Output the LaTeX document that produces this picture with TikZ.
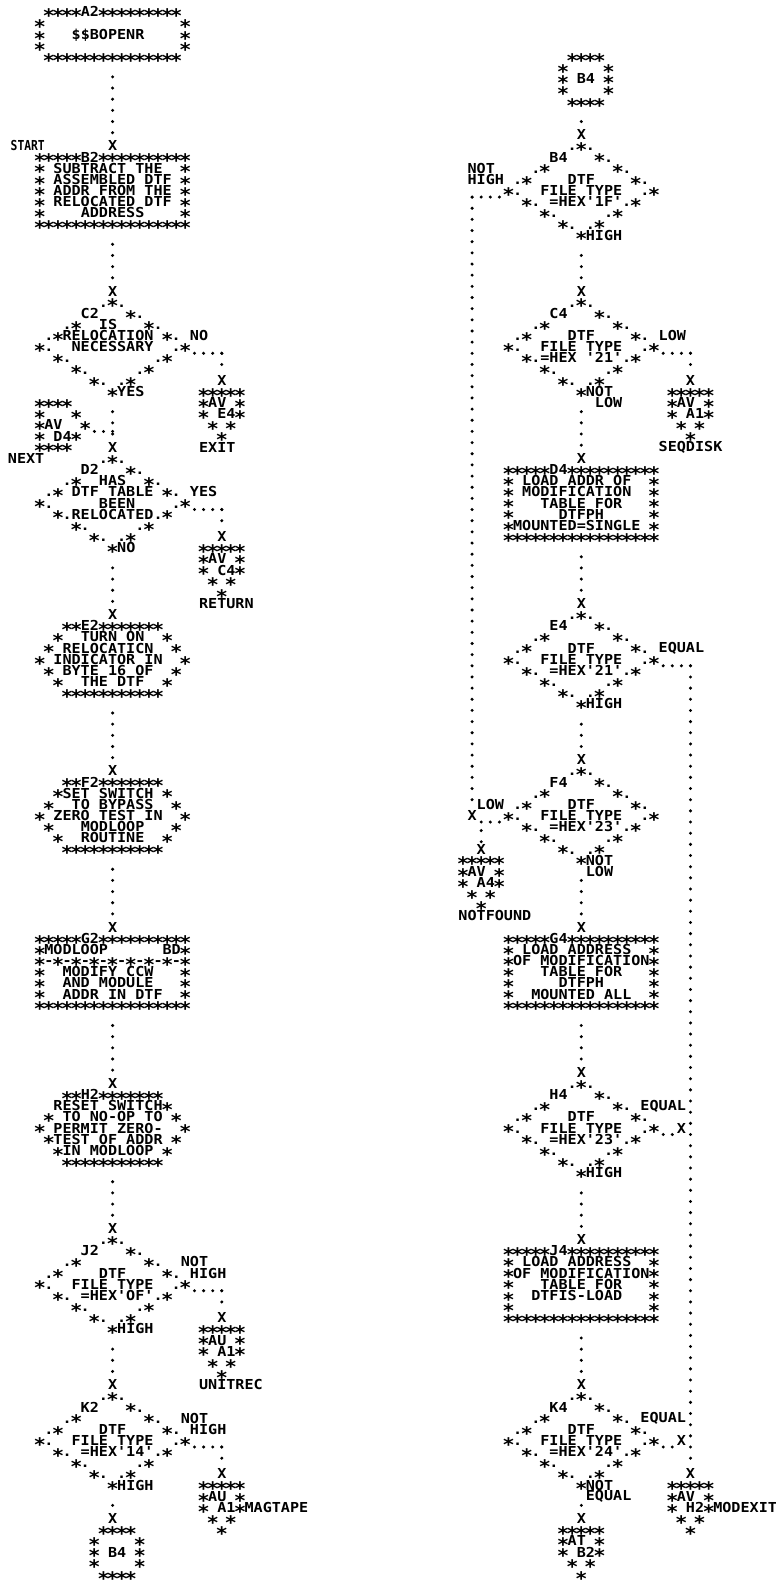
\documentclass[tikz,border=0pt]{standalone}
\usepackage{fontspec}
\usepackage{graphicx}
\newfontfamily\chainfont[FakeStretch=1.1006]{DejaVu Sans Mono}
\newlength\cw \setlength\cw{6.825pt}
\newcommand\gstrut{\vrule width 0pt height 7.939pt depth 0.431pt}
\newcommand\starglyph{\hbox to\cw{\hss\raisebox{-4.3pt}{\fontsize{14}{14}\selectfont\char42}\hss}}
{\catcode`\*=\active \gdef*{\starglyph}}
\newcommand\blk[1]{\vbox{\chainfont\bfseries\fontsize{10.3}{8.37}\selectfont
  \baselineskip=8.37pt\lineskip=0pt\lineskiplimit=-\maxdimen
  \def~{\hbox to\cw{\hss}}#1}}
\newcommand\rw[1]{\hbox{\gstrut#1}}
\tikzset{
  cell/.style={inner sep=0pt, outer sep=0pt},
  block/.style={cell, anchor=north west},
  lab/.style={cell, anchor=west},
  xm/.style={cell, anchor=center},
  cdot/.style={line width=2.5pt, line cap=round},
  vcon/.style={cdot, dash pattern=on 0pt off 8.37pt, dash phase=1.235pt},
  vcon0/.style={cdot, dash pattern=on 0pt off 8.37pt},
  hcon/.style={cdot, dash pattern=on 0pt off 6.825pt, dash phase=3.4125pt}
}
\begin{document}
\catcode`\*=\active
\begin{tikzpicture}
\fill[white] (0,0) rectangle (581.25pt,-1192.5pt);
\useasboundingbox (0,0) rectangle (581.25pt,-1192.5pt);
% ================= LEFT COLUMN =================
\begin{scope}[shift={(29.85pt,-9pt)},x=6.825pt,y=-8.37pt]
\node[block] (A2) at (-0.5,-0.5) {\blk{
\rw{~****A2*********}
\rw{*~~~~~~~~~~~~~~~*}
\rw{*~~~\$\$BOPENR~~~~*}
\rw{*~~~~~~~~~~~~~~~*}
\rw{~***************}}};
\node[xm] (xB2) at (8,12) {\blk{\rw{X}}};
\node[lab] (lstart) at (-3.2,12) {\blk{\rw{\scalebox{0.75}[1]{START}}}};
\node[block] (B2) at (-0.5,12.5) {\blk{
\rw{*****B2**********}
\rw{*~SUBTRACT~THE~~*}
\rw{*~ASSEMBLED~DTF~*}
\rw{*~ADDR~FROM~THE~*}
\rw{*~RELOCATED~DTF~*}
\rw{*~~~~ADDRESS~~~~*}
\rw{*****************}}};
\node[xm] (xC2) at (8,25) {\blk{\rw{X}}};
\node[block] (C2) at (-0.5,25.5) {\blk{
\rw{~~~~~~~.*.}
\rw{~~~~~C2~~~*.}
\rw{~~~.*~~IS~~~*.}
\rw{~.*RELOCATION~*.}
\rw{*.~~NECESSARY~~.*}
\rw{~~*.~~~~~~~~~.*}
\rw{~~~~*.~~~~~.*}
\rw{~~~~~~*.~.*}
\rw{~~~~~~~~*}}};
\node[lab] (C2yes) at (8.5,34) {\blk{\rw{YES}}};
\node[lab] (C2no) at (16.5,29) {\blk{\rw{NO}}};
\node[xm] (xE4) at (20,33) {\blk{\rw{X}}};
\node[block] (oE4) at (17.5,33.5) {\blk{
\rw{*****}\rw{*AV~*}\rw{*~E4*}\rw{~*~*}\rw{~~*}}};
\node[lab] (lexit) at (17.5,39) {\blk{\rw{EXIT}}};
\node[block] (iD4) at (-0.5,34.5) {\blk{
\rw{****}\rw{*~~~*}\rw{*AV~~*}\rw{*~D4*}\rw{****}}};
\node[lab] (lnext) at (-3.5,40) {\blk{\rw{NEXT}}};
\node[xm] (xD2) at (8,39) {\blk{\rw{X}}};
\node[block] (D2) at (-0.5,39.5) {\blk{
\rw{~~~~~~~.*.}
\rw{~~~~~D2~~~*.}
\rw{~~~.*~~HAS~~*.}
\rw{~.*~DTF~TABLE~*.}
\rw{*.~~~~~BEEN~~~~.*}
\rw{~~*.RELOCATED.*}
\rw{~~~~*.~~~~~.*}
\rw{~~~~~~*.~.*}
\rw{~~~~~~~~*}}};
\node[lab] (D2no) at (8.5,48) {\blk{\rw{NO}}};
\node[lab] (D2yes) at (16.5,43) {\blk{\rw{YES}}};
\node[xm] (xC4) at (20,47) {\blk{\rw{X}}};
\node[block] (oC4) at (17.5,47.5) {\blk{
\rw{*****}\rw{*AV~*}\rw{*~C4*}\rw{~*~*}\rw{~~*}}};
\node[lab] (lret) at (17.5,53) {\blk{\rw{RETURN}}};
\node[xm] (xE2) at (8,54) {\blk{\rw{X}}};
\node[block] (E2) at (-0.5,54.5) {\blk{
\rw{~~~**E2*******}
\rw{~~*~~TURN~ON~~*}
\rw{~*~RELOCATICN~~*}
\rw{*~INDICATOR~IN~~*}
\rw{~*~BYTE~16~OF~~*}
\rw{~~*~~THE~DTF~~*}
\rw{~~~***********}}};
\node[xm] (xF2) at (8,68) {\blk{\rw{X}}};
\node[block] (F2) at (-0.5,68.5) {\blk{
\rw{~~~**F2*******}
\rw{~~*SET~SWITCH~*}
\rw{~*~~TO~BYPASS~~*}
\rw{*~ZERO~TEST~IN~~*}
\rw{~*~~~MODLOOP~~~*}
\rw{~~*~~ROUTINE~~*}
\rw{~~~***********}}};
\node[xm] (xG2) at (8,82) {\blk{\rw{X}}};
\node[block] (G2) at (-0.5,82.5) {\blk{
\rw{*****G2**********}
\rw{*MODLOOP~~~~~~BD*}
\rw{*-*-*-*-*-*-*-*-*}
\rw{*~~MODIFY~CCW~~~*}
\rw{*~~AND~MODULE~~~*}
\rw{*~~ADDR~IN~DTF~~*}
\rw{*****************}}};
\node[xm] (xH2) at (8,96) {\blk{\rw{X}}};
\node[block] (H2) at (-0.5,96.5) {\blk{
\rw{~~~**H2*******}
\rw{~~RESET~SWITCH*}
\rw{~*~TO~NO-OP~TO~*}
\rw{*~PERMIT~ZERO-~~*}
\rw{~*TEST~OF~ADDR~*}
\rw{~~*IN~MODLOOP~*}
\rw{~~~***********}}};
\node[xm] (xJ2) at (8,109) {\blk{\rw{X}}};
\node[block] (J2) at (-0.5,109.5) {\blk{
\rw{~~~~~~~.*.}
\rw{~~~~~J2~~~*.}
\rw{~~~.*~~~~~~~*.}
\rw{~.*~~~~DTF~~~~*.}
\rw{*.~~FILE~TYPE~~.*}
\rw{~~*.~=HEX'OF'.*}
\rw{~~~~*.~~~~~.*}
\rw{~~~~~~*.~.*}
\rw{~~~~~~~~*}}};
\node[lab] (J2hi) at (8.5,118) {\blk{\rw{HIGH}}};
\node[block] (J2nh) at (15.5,111.5) {\blk{\rw{NOT}\rw{~HIGH}}};
\node[xm] (xA1u) at (20,117) {\blk{\rw{X}}};
\node[block] (oA1u) at (17.5,117.5) {\blk{
\rw{*****}\rw{*AU~*}\rw{*~A1*}\rw{~*~*}\rw{~~*}}};
\node[lab] (lunit) at (17.5,123) {\blk{\rw{UNITREC}}};
\node[xm] (xK2) at (8,123) {\blk{\rw{X}}};
\node[block] (K2) at (-0.5,123.5) {\blk{
\rw{~~~~~~~.*.}
\rw{~~~~~K2~~~*.}
\rw{~~~.*~~~~~~~*.}
\rw{~.*~~~~DTF~~~~*.}
\rw{*.~~FILE~TYPE~~.*}
\rw{~~*.~=HEX'14'.*}
\rw{~~~~*.~~~~~.*}
\rw{~~~~~~*.~.*}
\rw{~~~~~~~~*}}};
\node[lab] (K2hi) at (8.5,132) {\blk{\rw{HIGH}}};
\node[block] (K2nh) at (15.5,125.5) {\blk{\rw{NOT}\rw{~HIGH}}};
\node[xm] (xA1m) at (20,131) {\blk{\rw{X}}};
\node[block] (oA1m) at (17.5,131.5) {\blk{
\rw{*****}\rw{*AU~*}\rw{*~A1*}\rw{~*~*}\rw{~~*}}};
\node[lab] (lmag) at (22.5,134) {\blk{\rw{MAGTAPE}}};
\node[xm] (xB4L) at (8,135) {\blk{\rw{X}}};
\node[block] (cB4L) at (5.5,135.5) {\blk{
\rw{~****}\rw{*~~~~*}\rw{*~B4~*}\rw{*~~~~*}\rw{~****}}};
% connectors
\draw[vcon] (A2.south) -- (xB2.north);
\draw[vcon] (B2.south) -- (xC2.north);
\draw[vcon] (C2.south) -- (xD2.north);
\draw[vcon] (D2.south) -- (xE2.north);
\draw[vcon] (E2.south) -- (xF2.north);
\draw[vcon] (F2.south) -- (xG2.north);
\draw[vcon] (G2.south) -- (xH2.north);
\draw[vcon] (H2.south) -- (xJ2.north);
\draw[vcon] (J2.south) -- (xK2.north);
\draw[vcon] (K2.south) -- (xB4L.north);
\path (C2.east) ++(0,-2.95pt) coordinate (C2r);
\draw[hcon] (C2r) -- (C2r -| xE4);
\draw[vcon0] (C2r -| xE4) -- (xE4.north);
\path (D2.east) ++(0,-2.95pt) coordinate (D2r);
\draw[hcon] (D2r) -- (D2r -| xC4);
\draw[vcon0] (D2r -| xC4) -- (xC4.north);
\path (J2.east) ++(0,-2.95pt) coordinate (J2r);
\draw[hcon] (J2r) -- (J2r -| xA1u);
\draw[vcon0] (J2r -| xA1u) -- (xA1u.north);
\path (K2.east) ++(0,-2.95pt) coordinate (K2r);
\draw[hcon] (K2r) -- (K2r -| xA1m);
\draw[vcon0] (K2r -| xA1m) -- (xA1m.north);
\path (iD4.east) ++(0,-2.95pt) coordinate (D4in);
\draw[hcon] (D4in) -- (D4in -| xD2);
\end{scope}
% ================= RIGHT COLUMN =================
\begin{scope}[shift={(381.375pt,-9pt)},x=6.825pt,y=-8.37pt]
\node[block] (cB4R) at (5.5,3.5) {\blk{
\rw{~****}\rw{*~~~~*}\rw{*~B4~*}\rw{*~~~~*}\rw{~****}}};
\node[xm] (xB4R) at (8,11) {\blk{\rw{X}}};
\node[block] (B4) at (-0.5,11.5) {\blk{
\rw{~~~~~~~.*.}
\rw{~~~~~B4~~~*.}
\rw{~~~.*~~~~~~~*.}
\rw{~.*~~~~DTF~~~~*.}
\rw{*.~~FILE~TYPE~~.*}
\rw{~~*.~=HEX'1F'.*}
\rw{~~~~*.~~~~~.*}
\rw{~~~~~~*.~.*}
\rw{~~~~~~~~*}}};
\node[block] (B4nh) at (-4.5,13.5) {\blk{\rw{NOT}\rw{HIGH}}};
\node[lab] (B4hi) at (8.5,20) {\blk{\rw{HIGH}}};
\node[xm] (xC4r) at (8,25) {\blk{\rw{X}}};
\node[block] (C4) at (-0.5,25.5) {\blk{
\rw{~~~~~~~.*.}
\rw{~~~~~C4~~~*.}
\rw{~~~.*~~~~~~~*.}
\rw{~.*~~~~DTF~~~~*.}
\rw{*.~~FILE~TYPE~~.*}
\rw{~~*.=HEX~'21'.*}
\rw{~~~~*.~~~~~.*}
\rw{~~~~~~*.~.*}
\rw{~~~~~~~~*}}};
\node[lab] (C4low) at (16.5,29) {\blk{\rw{LOW}}};
\node[lab] (C4not) at (8.5,34) {\blk{\rw{NOT}}};
\node[lab] (C4low2) at (9.5,35) {\blk{\rw{LOW}}};
\node[xm] (xA1s) at (20,33) {\blk{\rw{X}}};
\node[block] (oA1s) at (17.5,33.5) {\blk{
\rw{*****}\rw{*AV~*}\rw{*~A1*}\rw{~*~*}\rw{~~*}}};
\node[lab] (lseq) at (16.5,39) {\blk{\rw{SEQDISK}}};
\node[xm] (xD4) at (8,40) {\blk{\rw{X}}};
\node[block] (D4) at (-0.5,40.5) {\blk{
\rw{*****D4**********}
\rw{*~LOAD~ADDR~OF~~*}
\rw{*~MODIFICATION~~*}
\rw{*~~~TABLE~FOR~~~*}
\rw{*~~~~~DTFPH~~~~~*}
\rw{*MOUNTED=SINGLE~*}
\rw{*****************}}};
\node[xm] (xE4r) at (8,53) {\blk{\rw{X}}};
\node[block] (E4) at (-0.5,53.5) {\blk{
\rw{~~~~~~~.*.}
\rw{~~~~~E4~~~*.}
\rw{~~~.*~~~~~~~*.}
\rw{~.*~~~~DTF~~~~*.}
\rw{*.~~FILE~TYPE~~.*}
\rw{~~*.~=HEX'21'.*}
\rw{~~~~*.~~~~~.*}
\rw{~~~~~~*.~.*}
\rw{~~~~~~~~*}}};
\node[lab] (E4eq) at (16.5,57) {\blk{\rw{EQUAL}}};
\node[lab] (E4hi) at (8.5,62) {\blk{\rw{HIGH}}};
\node[xm] (xF4) at (8,67) {\blk{\rw{X}}};
\node[block] (F4) at (-0.5,67.5) {\blk{
\rw{~~~~~~~.*.}
\rw{~~~~~F4~~~*.}
\rw{~~~.*~~~~~~~*.}
\rw{~.*~~~~DTF~~~~*.}
\rw{*.~~FILE~TYPE~~.*}
\rw{~~*.~=HEX'23'.*}
\rw{~~~~*.~~~~~.*}
\rw{~~~~~~*.~.*}
\rw{~~~~~~~~*}}};
\node[lab] (F4low) at (-3.5,71) {\blk{\rw{LOW}}};
\node[xm] (xF4L) at (-4,72) {\blk{\rw{X}}};
\node[xm] (xA4) at (-3,75) {\blk{\rw{X}}};
\node[block] (oA4) at (-5.5,75.5) {\blk{
\rw{*****}\rw{*AV~*}\rw{*~A4*}\rw{~*~*}\rw{~~*}}};
\node[lab] (lnf) at (-5.5,81) {\blk{\rw{NOTFOUND}}};
\node[lab] (F4not) at (8.5,76) {\blk{\rw{NOT}}};
\node[lab] (F4low2) at (8.5,77) {\blk{\rw{LOW}}};
\node[xm] (xG4) at (8,82) {\blk{\rw{X}}};
\node[block] (G4) at (-0.5,82.5) {\blk{
\rw{*****G4**********}
\rw{*~LOAD~ADDRESS~~*}
\rw{*OF~MODIFICATION*}
\rw{*~~~TABLE~FOR~~~*}
\rw{*~~~~~DTFPH~~~~~*}
\rw{*~~MOUNTED~ALL~~*}
\rw{*****************}}};
\node[xm] (xH4) at (8,95) {\blk{\rw{X}}};
\node[block] (H4) at (-0.5,95.5) {\blk{
\rw{~~~~~~~.*.}
\rw{~~~~~H4~~~*.}
\rw{~~~.*~~~~~~~*.}
\rw{~.*~~~~DTF~~~~*.}
\rw{*.~~FILE~TYPE~~.*}
\rw{~~*.~=HEX'23'.*}
\rw{~~~~*.~~~~~.*}
\rw{~~~~~~*.~.*}
\rw{~~~~~~~~*}}};
\node[lab] (H4eq) at (14.5,98) {\blk{\rw{EQUAL}}};
\node[xm] (xH4j) at (19,100) {\blk{\rw{X}}};
\node[lab] (H4hi) at (8.5,104) {\blk{\rw{HIGH}}};
\node[xm] (xJ4) at (8,110) {\blk{\rw{X}}};
\node[block] (J4) at (-0.5,110.5) {\blk{
\rw{*****J4**********}
\rw{*~LOAD~ADDRESS~~*}
\rw{*OF~MODIFICATION*}
\rw{*~~~TABLE~FOR~~~*}
\rw{*~~DTFIS-LOAD~~~*}
\rw{*~~~~~~~~~~~~~~~*}
\rw{*****************}}};
\node[xm] (xK4) at (8,123) {\blk{\rw{X}}};
\node[block] (K4) at (-0.5,123.5) {\blk{
\rw{~~~~~~~.*.}
\rw{~~~~~K4~~~*.}
\rw{~~~.*~~~~~~~*.}
\rw{~.*~~~~DTF~~~~*.}
\rw{*.~~FILE~TYPE~~.*}
\rw{~~*.~=HEX'24'.*}
\rw{~~~~*.~~~~~.*}
\rw{~~~~~~*.~.*}
\rw{~~~~~~~~*}}};
\node[lab] (K4eq) at (14.5,126) {\blk{\rw{EQUAL}}};
\node[xm] (xK4j) at (19,128) {\blk{\rw{X}}};
\node[lab] (K4not) at (8.5,132) {\blk{\rw{NOT}}};
\node[lab] (K4eq2) at (8.5,133) {\blk{\rw{EQUAL}}};
\node[xm] (xH2r) at (20,131) {\blk{\rw{X}}};
\node[block] (oH2) at (17.5,131.5) {\blk{
\rw{*****}\rw{*AV~*}\rw{*~H2*}\rw{~*~*}\rw{~~*}}};
\node[lab] (lmod) at (22.5,134) {\blk{\rw{MODEXIT}}};
\node[xm] (xAT) at (8,135) {\blk{\rw{X}}};
\node[block] (oAT) at (5.5,135.5) {\blk{
\rw{*****}\rw{*AT~*}\rw{*~B2*}\rw{~*~*}\rw{~~*}}};
% connectors
\draw[vcon] (cB4R.south -| xB4R) -- (xB4R.north);
\draw[vcon] (B4.south) -- (xC4r.north);
\draw[vcon] (C4.south) -- (xD4.north);
\draw[vcon] (D4.south) -- (xE4r.north);
\draw[vcon] (E4.south) -- (xF4.north);
\draw[vcon] (F4.south) -- (xG4.north);
\draw[vcon] (G4.south) -- (xH4.north);
\draw[vcon] (H4.south) -- (xJ4.north);
\draw[vcon] (J4.south) -- (xK4.north);
\draw[vcon] (K4.south) -- (xAT.north);
\path (C4.east) ++(0,-2.95pt) coordinate (C4r);
\draw[hcon] (C4r) -- (C4r -| xA1s);
\draw[vcon0] (C4r -| xA1s) -- (xA1s.north);
\path (E4.east) ++(0,-2.95pt) coordinate (E4r);
\draw[hcon] (E4r) -- (E4r -| xH2r);
\draw[vcon0] (E4r -| xH2r) -- (xH2r.north);
\path (H4.east) ++(0,-2.95pt) coordinate (H4r);
\draw[hcon] (H4r) -- (H4r -| xH4j.west);
\path (K4.east) ++(0,-2.95pt) coordinate (K4r);
\draw[hcon] (K4r) -- (K4r -| xK4j.west);
\path (B4.west) ++(0,-2.95pt) coordinate (B4l);
\draw[hcon] (B4l) -- (B4l -| xF4L);
\draw[vcon0] (B4l -| xF4L) -- (xF4L.north);
\path (F4.west) ++(0,-2.95pt) coordinate (F4l);
\draw[hcon] (F4l) -- (F4l -| xF4L.east);
\draw[vcon] (xF4L.south -| xA4) -- (xA4.north);
\end{scope}
\end{tikzpicture}
\end{document}
